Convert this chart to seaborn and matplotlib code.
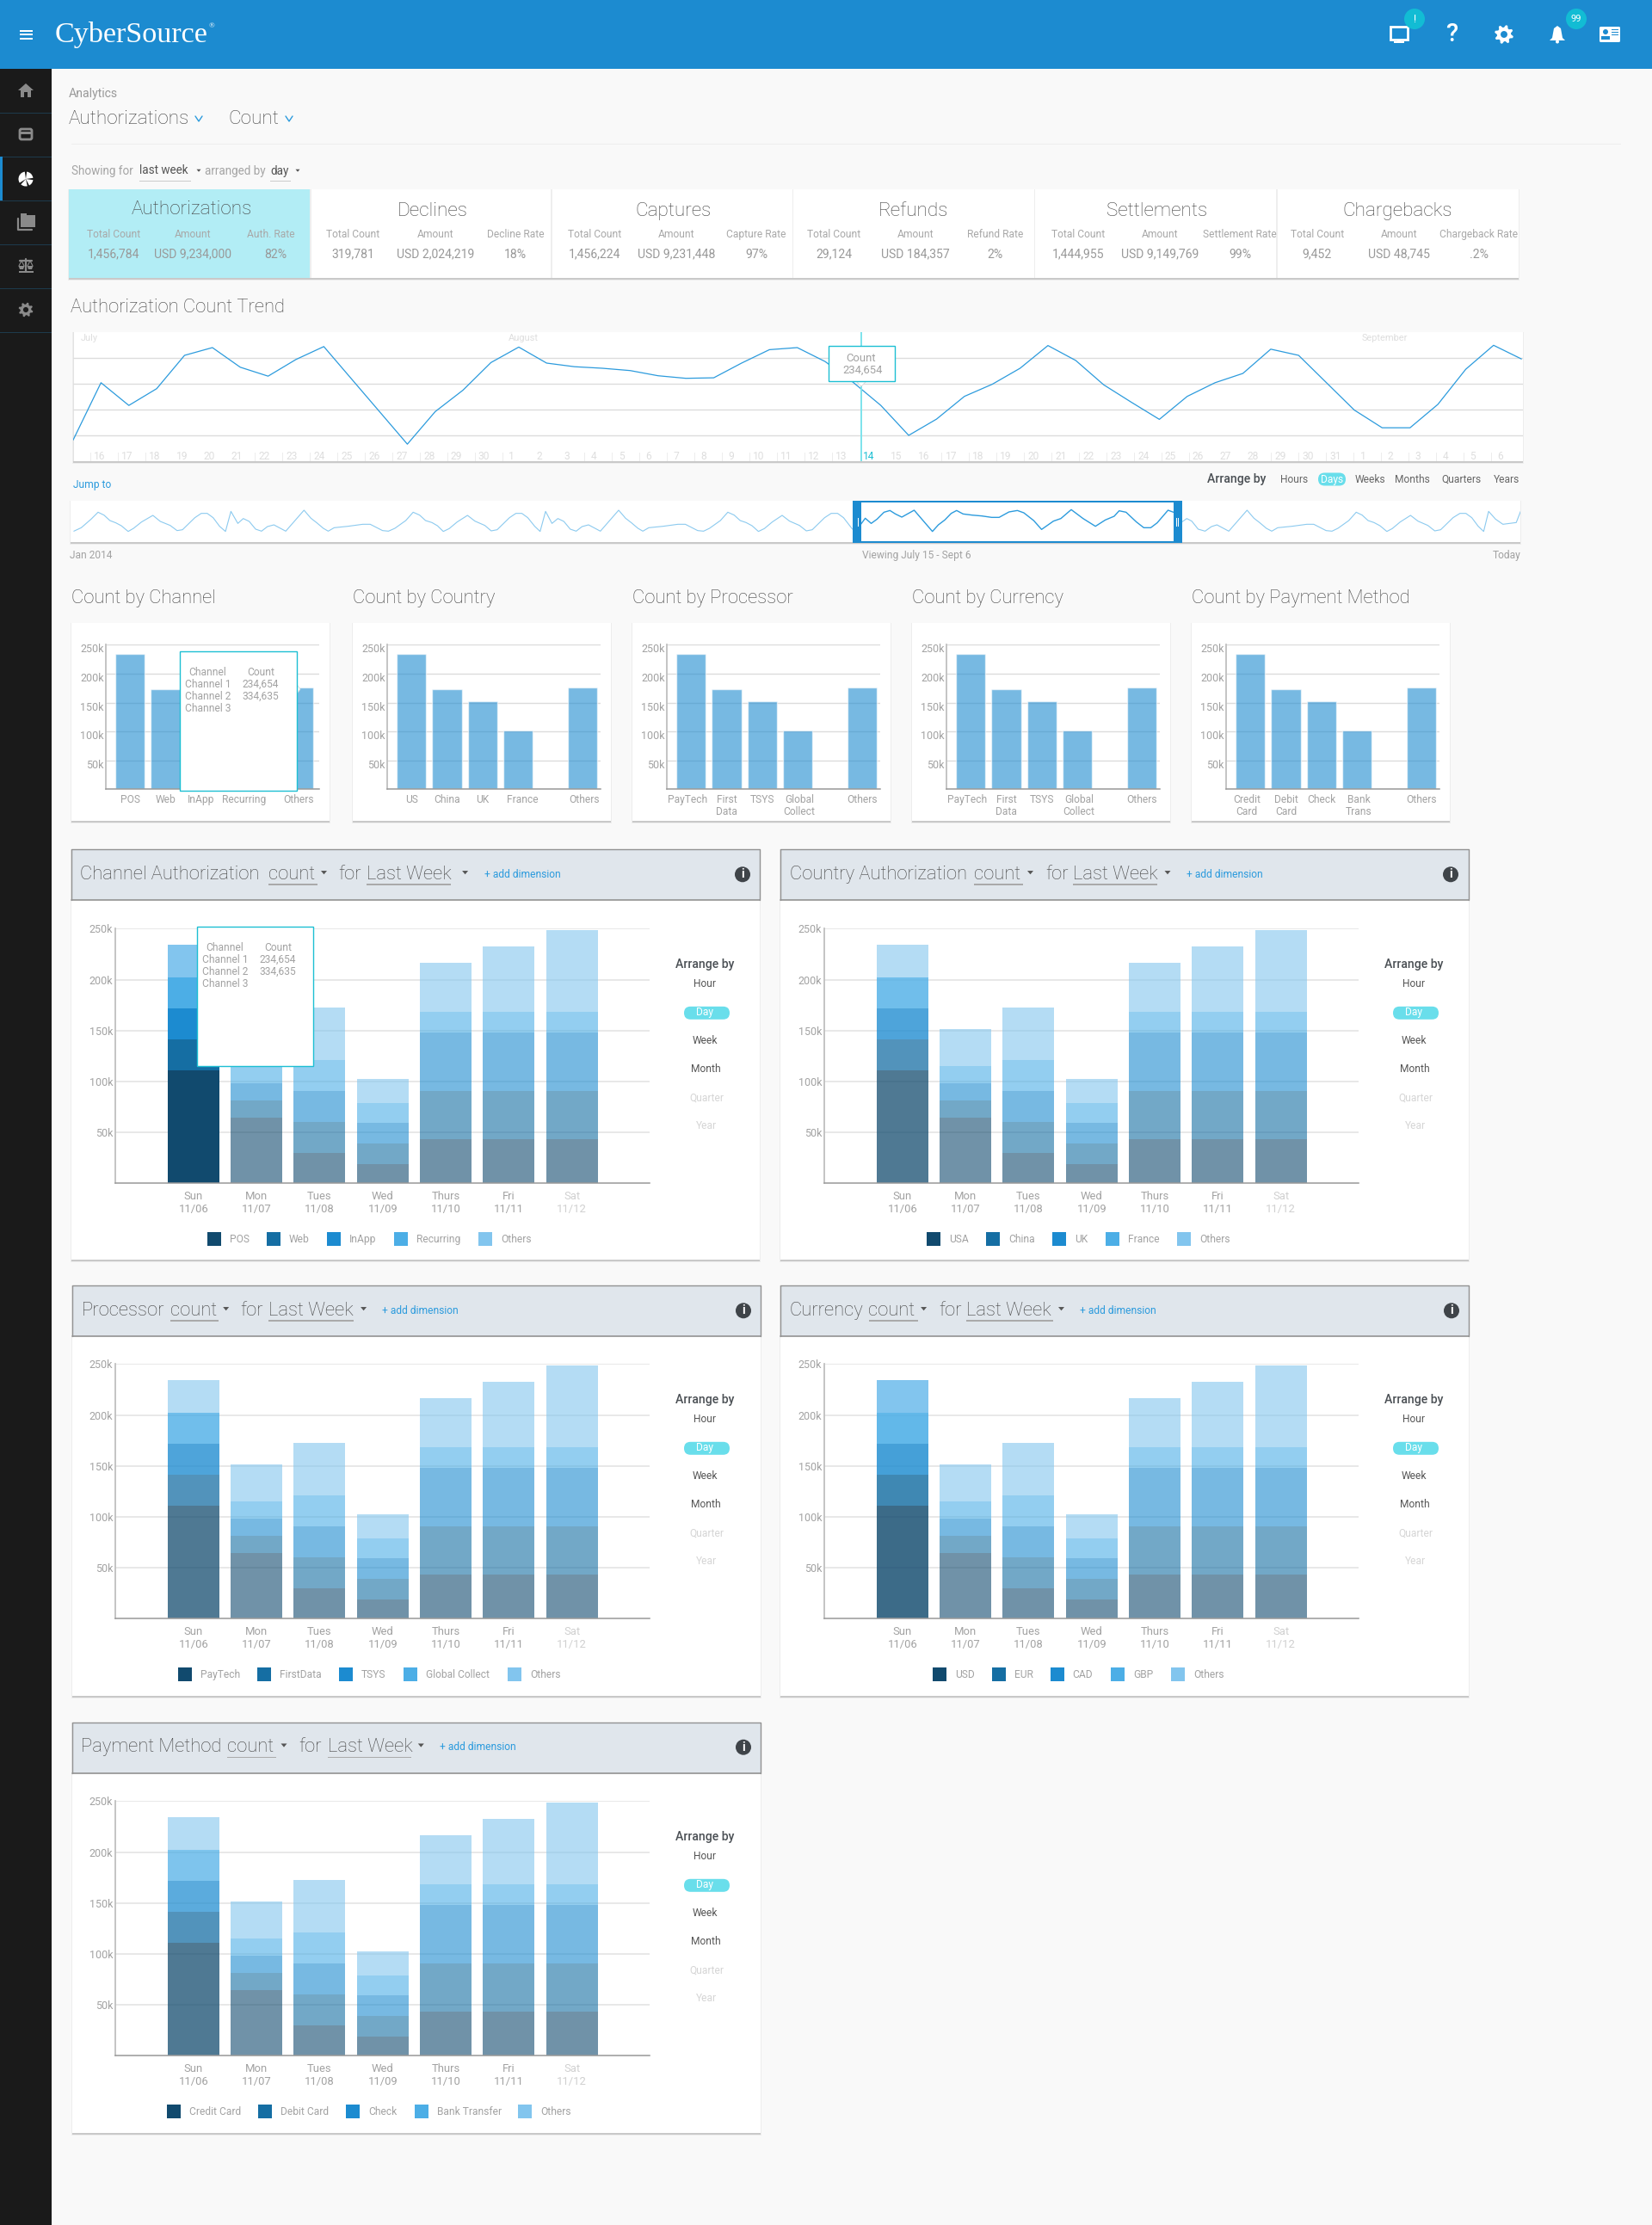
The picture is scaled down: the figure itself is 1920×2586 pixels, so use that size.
import numpy as np
import seaborn as sns
import matplotlib
matplotlib.use('Agg')
import matplotlib.pyplot as plt
from matplotlib.colors import to_rgba
from matplotlib.patches import Rectangle, Circle, Ellipse, Polygon, Wedge, FancyBboxPatch
from matplotlib.transforms import ScaledTranslation

sns.set_theme(style='white')
plt.rcParams['font.family'] = ['Roboto', 'DejaVu Sans']

W, H = 1920, 2586

# ---- data ----
SUMMARY_TITLES = ['Authorizations', 'Declines', 'Captures', 'Refunds', 'Settlements', 'Chargebacks']
SUMMARY_RATE_NAMES = ['Auth. Rate', 'Decline Rate', 'Capture Rate', 'Refund Rate', 'Settlement Rate', 'Chargeback Rate']
SUMMARY_COUNTS = ['1,456,784', '319,781', '1,456,224', '29,124', '1,444,955', '9,452']
SUMMARY_AMOUNTS = ['USD 9,234,000', 'USD 2,024,219', 'USD 9,231,448', 'USD 184,357', 'USD 9,149,769', 'USD 48,745']
SUMMARY_RATES = ['82%', '18%', '97%', '2%', '99%', '.2%']

# daily count, thousands (July 15 - Sept 6)
TREND_COUNTS = [41, 152, 108, 140.5, 205, 220, 182, 164.7, 197, 222, 159, 96, 33, 96, 137.7, 191, 221, 190,
                183, 180, 175.5, 165.5, 160.5, 161.5, 190, 216, 220, 193, 153, 108, 50, 81.5, 125.5, 149, 180,
                224, 195, 148, 114, 81, 125.5, 152, 170, 217, 205, 152, 99, 64.7, 64.7, 110, 178, 224.5, 198]
JULY_DAYS = list(range(16, 31))
AUGUST_DAYS = list(range(1, 32))
SEPT_DAYS = list(range(1, 7))

# overview strip, position along the timeline and relative level
MINI_POS_EARLY = [45, 60, 80, 94, 106, 118, 130, 141, 155, 166, 182, 205, 220, 240, 254, 265, 290, 303, 315, 327,
                  340, 352, 363, 377, 388, 400, 413, 425, 437, 450, 474, 511, 525, 537, 550, 560, 572, 600, 630,
                  645, 670, 682, 695, 717, 732, 745, 757, 770, 781, 793, 805, 821, 842, 857, 877, 890, 902, 927,
                  940, 952, 964, 978, 989, 1000, 1013, 1025, 1037, 1050, 1062, 1074, 1087, 1111, 1148, 1162, 1174,
                  1187, 1197, 1209, 1238, 1268, 1283, 1308, 1320, 1332, 1354, 1369, 1382, 1394, 1406, 1418, 1431,
                  1443, 1459, 1479, 1494, 1514, 1528, 1540, 1565]
MINI_LEVEL_EARLY = [38, 50, 80, 104, 94, 75, 67, 57, 37, 48, 70, 93, 72, 58, 40, 43, 85, 100, 100, 85,
                    55, 37, 107, 65, 82, 72, 45, 38, 54, 60, 38, 111, 83, 67, 48, 38, 50, 55, 62,
                    62, 40, 38, 48, 75, 104, 94, 75, 68, 57, 37, 47, 70, 93, 73, 58, 39, 43, 85,
                    100, 100, 85, 55, 37, 107, 65, 82, 72, 45, 38, 54, 60, 38, 111, 83, 67,
                    48, 38, 50, 55, 62, 62, 40, 38, 48, 75, 104, 94, 75, 68, 57, 37,
                    47, 70, 93, 73, 58, 39, 43, 85]
MINI_POS_LATE = [115, 128, 140, 158, 172, 184, 196, 208, 222, 234, 245, 258, 283, 320, 332, 345, 358, 369, 382,
                 400, 420, 440, 455, 475, 492, 505, 525, 541, 565, 580, 601, 625, 650, 670, 688, 698, 712, 733,
                 748, 762, 775, 797, 808, 825, 835, 845, 858, 872, 885, 896, 920, 957, 971, 983, 996, 1007, 1019,
                 1048, 1078, 1092, 1117, 1129, 1141, 1163, 1178, 1190, 1202, 1214, 1226, 1240, 1251, 1267, 1288,
                 1303, 1323, 1337, 1349, 1374, 1388, 1400, 1412, 1425, 1436, 1446, 1460, 1475, 1502, 1511]
MINI_LEVEL_LATE = [100, 100, 85, 45, 55, 83, 65, 80, 104, 110, 98, 87, 111, 37, 60, 77, 100, 110, 98,
                   94, 91, 86, 86, 105, 110, 102, 75, 44, 73, 82, 113, 82, 55, 77, 90, 109, 104, 70,
                   50, 50, 67, 111, 104, 70, 82, 73, 45, 38, 54, 60, 38, 111, 83, 67, 48, 38, 50,
                   55, 62, 62, 40, 38, 48, 75, 104, 94, 75, 68, 57, 37, 47, 70, 93,
                   73, 58, 39, 43, 85, 100, 100, 85, 55, 37, 107, 80, 62, 68, 108]

# small cards, thousands
CARD_COUNTS = [234, 172.5, 152, 101.5, 176]
CHANNEL_NAMES = ['POS', 'Web', 'InApp', 'Recurring', 'Others']
COUNTRY_NAMES = ['US', 'China', 'UK', 'France', 'Others']
PROCESSOR_NAMES = ['PayTech', 'First\nData', 'TSYS', 'Global\nCollect', 'Others']
PAYMENT_NAMES = ['Credit\nCard', 'Debit\nCard', 'Check', 'Bank\nTrans', 'Others']

# stacked weekly panels, thousands per segment
DAY_LABELS = ['Sun\n11/06', 'Mon\n11/07', 'Tues\n11/08', 'Wed\n11/09', 'Thurs\n11/10', 'Fri\n11/11', 'Sat\n11/12']
SEGMENT_1 = [111, 64.5, 30, 19, 43.5, 43.5, 43.5]
SEGMENT_2 = [30, 16.5, 30, 20.5, 47, 47, 47]
SEGMENT_3 = [31, 17.5, 30.5, 20, 57.5, 57.5, 57.5]
SEGMENT_4 = [30, 16.5, 30.5, 19.5, 20, 20, 20]
SEGMENT_5 = [32, 36.5, 51.5, 23.5, 48.5, 64.5, 80.5]
SEGMENTS = [SEGMENT_1, SEGMENT_2, SEGMENT_3, SEGMENT_4, SEGMENT_5]
LAYER_COLORS = ['#114A6E', '#156EA3', '#1C8BD0', '#4CAEE6', '#82C5EE']

CHANNEL_LEGEND = ['POS', 'Web', 'InApp', 'Recurring', 'Others']
COUNTRY_LEGEND = ['USA', 'China', 'UK', 'France', 'Others']
PROCESSOR_LEGEND = ['PayTech', 'FirstData', 'TSYS', 'Global Collect', 'Others']
CURRENCY_LEGEND = ['USD', 'EUR', 'CAD', 'GBP', 'Others']
PAYMENT_LEGEND = ['Credit Card', 'Debit Card', 'Check', 'Bank Transfer', 'Others']

# ---- colours ----
PAGE = '#F9F9F9'
BLUE = '#1C8BD0'
LINK = '#2C9BDD'
TEAL = '#1DBFD3'
PILL = '#69DEEB'
DARK = '#4A4F54'
TITLE = '#444444'
GREY = '#A2A2A2'
FAINT = '#DEDEDE'
GRID = '#DCDCDC'

fig = plt.figure(figsize=(W / 100, H / 100), dpi=100, facecolor=PAGE)


def overlay(z):
    ax = fig.add_axes([0, 0, 1, 1], zorder=z)
    ax.set_xlim(0, W)
    ax.set_ylim(H, 0)
    ax.axis('off')
    ax.patch.set_alpha(0)
    return ax


def px_axes(x0, y0, x1, y1):
    ax = fig.add_axes([x0 / W, 1 - y1 / H, (x1 - x0) / W, (y1 - y0) / H], zorder=5)
    ax.patch.set_alpha(0)
    return ax


bg = overlay(0)
fg = overlay(20)


def put(x, y, s, px=12, color=GREY, ha='left', weight=None, ax=None, **kw):
    # big headings are Roboto Light, the small labels read better in regular
    weight = weight or ('light' if px >= 20 else 'normal')
    (ax or bg).text(x, y + 1.5, s, fontsize=px * 0.72, color=color, ha=ha, va='center', weight=weight, **kw)


def rect(x0, y0, x1, y1, color, ax=None, z=2, **kw):
    (ax or bg).add_patch(Rectangle((x0, y0), x1 - x0, y1 - y0, facecolor=color, edgecolor='none', zorder=z, **kw))


def card(x0, y0, x1, y1, color='white'):
    rect(x0 - 1, y0, x1 + 1, y1 + 3, '#EDEDED', z=1)
    rect(x0, y1, x1, y1 + 2, '#C9C9C9', z=1)
    rect(x0, y0, x1, y1, color)


def caret(x, y, ax=None, color='#555555', size=4):
    (ax or bg).add_patch(Polygon([(x - size, y - size / 2), (x + size, y - size / 2), (x, y + size * 0.7)],
                                 facecolor=color, edgecolor='none', zorder=3))


def chevron(x, y):
    bg.plot([x - 4, x, x + 4], [y - 3, y + 3, y - 3], color=LINK, lw=1.0, zorder=3)


def gear(cx, cy, r, color, hole, ax=None):
    ang = np.linspace(0, 2 * np.pi, 33)[:-1] + np.pi / 16
    rad = np.tile([r, r, r * 0.74, r * 0.74], 8)
    pts = np.c_[cx + rad * np.cos(ang), cy + rad * np.sin(ang)]
    ax = ax or bg
    ax.add_patch(Polygon(pts, facecolor=color, edgecolor='none', zorder=3))
    ax.add_patch(Circle((cx, cy), r * 0.36, facecolor=hole, edgecolor='none', zorder=4))


# ---- page chrome ----
rect(0, 0, W, 80, BLUE)
rect(0, 80, 60, H, '#1A1A1A')
for y in [131, 182, 233, 284, 335, 386]:
    rect(0, y - 0.5, 60, y + 0.5, '#1D3A4C', z=3)
rect(0, 182, 3, 233, BLUE, z=3)
for y in [35.5, 40, 45]:
    rect(23, y - 1, 38, y + 1, 'white', z=3)
bg.text(64, 49, 'CyberSource', fontsize=24.6, color='white', family='Liberation Serif', ha='left', va='baseline')
bg.text(243, 30, '®', fontsize=6.5, color='white', family='Liberation Serif', ha='left', va='center')

# sidebar icons
ICON = '#8A8A8A'
bg.add_patch(Polygon([(21, 105), (30, 97), (39, 105), (36, 105), (36, 113), (32, 113), (32, 107), (28, 107),
                      (28, 113), (24, 113), (24, 105)], facecolor=ICON, edgecolor='none', zorder=3))
bg.add_patch(FancyBboxPatch((23, 150), 14, 12, boxstyle='round,pad=0,rounding_size=2', fc='none', ec=ICON, lw=2, zorder=3))
rect(23, 153, 37, 156, ICON, z=3)
for t0, t1 in [(-82, -8), (8, 62), (78, 132), (148, 262)]:
    bg.add_patch(Wedge((30, 208), 8.5, t0, t1, facecolor='white', edgecolor='none', zorder=3))
rect(24, 250, 41, 264, ICON, z=3)
rect(24, 248, 31, 251, ICON, z=3)
bg.plot([21, 21, 37], [254, 267, 267], color=ICON, lw=1.6, zorder=3)
bg.plot([23, 37], [303, 303], color=ICON, lw=1.6, zorder=3)
bg.plot([30, 30], [301, 315], color=ICON, lw=1.6, zorder=3)
rect(22, 315, 39, 317, ICON, z=3)
for cx in [25, 35]:
    bg.add_patch(Polygon([(cx - 3.5, 309), (cx + 3.5, 309), (cx + 2, 313), (cx - 2, 313)], facecolor=ICON, edgecolor='none', zorder=3))
    bg.plot([cx - 3, cx, cx + 3], [309, 303, 309], color=ICON, lw=0.8, zorder=3)
gear(30, 360, 8.5, ICON, '#1A1A1A')

# header icons
bg.add_patch(Rectangle((1616, 31), 20, 15, fc='none', ec='white', lw=2, zorder=3))
rect(1624, 46, 1628, 49, 'white', z=3)
rect(1620, 48, 1632, 50, 'white', z=3)
bg.add_patch(Ellipse((1644, 22), 24, 24, facecolor='#12BCD4', edgecolor='none', zorder=4))
bg.text(1644, 22, '!', color='white', fontsize=9, ha='center', va='center', zorder=5)
bg.text(1687, 40, '?', color='white', fontsize=21, ha='center', va='center', zorder=5, weight='medium')
gear(1748, 40, 11, 'white', BLUE)
bg.add_patch(Polygon([(1810, 30), (1814, 33), (1816, 44), (1819, 47), (1801, 47), (1804, 44), (1806, 33)],
                     facecolor='white', edgecolor='none', zorder=3))
bg.add_patch(Circle((1810, 48.5), 2, facecolor='white', edgecolor='none', zorder=3))
bg.add_patch(Ellipse((1832, 22), 24, 24, facecolor='#12BCD4', edgecolor='none', zorder=4))
bg.text(1832, 22, '99', color='white', fontsize=8, ha='center', va='center', zorder=5)
bg.add_patch(FancyBboxPatch((1859, 31), 24, 18, boxstyle='round,pad=0,rounding_size=1.5', fc='white', ec='none', zorder=3))
bg.add_patch(Circle((1866, 37), 3, facecolor=BLUE, edgecolor='none', zorder=4))
rect(1861, 42, 1871, 46, BLUE, z=4)
for y in [34, 37, 40]:
    rect(1873, y, 1881, y + 1.4, BLUE, z=4)

# page heading
put(80, 108, 'Analytics', 14, '#999999')
put(80, 137, 'Authorizations', 22.5, TITLE)
chevron(231, 138)
put(265, 137, 'Count', 22.5, TITLE)
chevron(336, 138)
rect(83, 166.5, 1884, 167.5, '#EEEEEE')
put(83, 197, 'Showing for', 13.5, '#A5A5A5')
put(162, 197, 'last week', 13.5, '#555555')
rect(162, 210, 222, 211, '#CCCCCC')
caret(231, 198, size=2.5)
put(238, 197, 'arranged by', 13.5, '#A5A5A5')
put(314, 197, 'day', 13.5, '#555555')
rect(314, 210, 338, 211, '#CCCCCC')
caret(346, 198, size=2.5)

# summary strip
card(80, 220, 1765, 323)
rect(80, 220, 361, 323, '#B2EDF5', z=2)
for x in [361, 641, 921.6, 1202.5, 1484]:
    rect(x - 0.6, 220, x + 0.6, 323, '#EEEEEE', z=3)
title_x = [223, 503, 783, 1062, 1345, 1624]
count_x = [132, 410, 691, 969, 1253, 1531]
amount_x = [224, 506, 786, 1064, 1348, 1626]
rate_x = [315, 599, 879, 1157, 1441, 1719]
rate_val_x = [320, 599, 879, 1157, 1441, 1719]
for i, name in enumerate(SUMMARY_TITLES):
    put(title_x[i], 242 if i == 0 else 244, name, 22.5, TITLE, 'center', zorder=4)
    put(count_x[i], 271, 'Total Count', 12, '#A8A8A8', 'center', zorder=4)
    put(amount_x[i], 271, 'Amount', 12, '#A8A8A8', 'center', zorder=4)
    put(rate_x[i], 271, SUMMARY_RATE_NAMES[i], 12, '#A8A8A8', 'center', zorder=4)
    put(count_x[i], 294, SUMMARY_COUNTS[i], 14, '#999999', 'center', zorder=4)
    put(amount_x[i], 294, SUMMARY_AMOUNTS[i], 14, '#999999', 'center', zorder=4)
    put(rate_val_x[i], 294, SUMMARY_RATES[i], 14, '#999999', 'center', zorder=4)

# ---- trend ----
put(82, 356, 'Authorization Count Trend', 22, TITLE)
card(85, 386, 1770, 536)
rect(85, 386, 86, 536, '#E3E3E3', z=3)
ax = px_axes(85, 386, 1770, 536)
sns.lineplot(x=np.arange(len(TREND_COUNTS)), y=TREND_COUNTS, color=LINK, linewidth=0.9, errorbar=None, ax=ax)
ax.set_xlim(0, 1685 / 32.37)
ax.set_ylim(0, 250)
ax.set_yticks([50, 100, 150, 200])
ax.set_yticklabels([])
ax.set_xticks([])
ax.set(xlabel='', ylabel='')
ax.grid(axis='y', color=GRID, linewidth=1.0)
ax.set_axisbelow(True)
sns.despine(ax=ax, left=True, bottom=True)
ax.tick_params(length=0)

all_days = JULY_DAYS + AUGUST_DAYS + SEPT_DAYS
for i, d in enumerate(all_days):
    tick = 105.3 + 31.92 * i
    rect(tick - 0.4, 526, tick + 0.4, 536, '#EDEDED', z=3)
    on_day = (d == 14 and i > len(JULY_DAYS))
    put(tick + 10.4, 529, str(d), 12, TEAL if on_day else FAINT, 'center', zorder=4)
for x in [585, 1577]:
    rect(x - 0.4, 386, x + 0.4, 536, '#EFEFEF', z=3)
put(94, 392, 'July', 11, FAINT, zorder=4)
put(591, 392, 'August', 11, FAINT, zorder=4)
put(1583, 392, 'September', 11, FAINT, zorder=4)

rect(1000, 386, 1002, 536, '#7FE3EC', ax=fg)
fg.add_patch(Polygon([(995, 443), (1007, 443), (1001, 449)], facecolor='white', edgecolor='#D8D8D8', lw=0.6, zorder=3))
fg.add_patch(Rectangle((963, 402), 76.5, 41.3, fc='white', ec=TEAL, lw=1.0, zorder=4))
put(1001, 415, 'Count', 13, GREY, 'center', ax=fg, zorder=5)
put(1003, 429, '234,654', 13, GREY, 'center', ax=fg, zorder=5)

put(85, 562, 'Jump to', 12, LINK)
put(1437, 556, 'Arrange by', 14, DARK, 'center', weight='medium')
for x, s in zip([1504, 1592, 1641, 1698.5, 1751], ['Hours', 'Weeks', 'Months', 'Quarters', 'Years']):
    put(x, 556, s, 12, '#666666', 'center')
bg.add_patch(FancyBboxPatch((1532, 549.5), 32, 15, boxstyle='round,pad=0,rounding_size=7.5', fc=PILL, ec='none', zorder=3))
put(1548, 556, 'Days', 12, 'white', 'center', zorder=4)

# overview strip
card(82, 582, 1767, 630)
mini_x = np.r_[np.array(MINI_POS_EARLY) / 1.742 - 22, np.array(MINI_POS_LATE) / 1.742 + 818]
mini_y = np.r_[MINI_LEVEL_EARLY, MINI_LEVEL_LATE]
ax = px_axes(82, 582, 1767, 630)
sns.lineplot(x=mini_x, y=mini_y, color='#8CCAEF', linewidth=0.8, sort=False, estimator=None, ax=ax)
win0, win1 = 818 + 167 / 1.742, 818 + 817 / 1.742
ax.axvspan(win0, win1, color='white', zorder=3, lw=0)
inside = (mini_x >= win0) & (mini_x <= win1)
sns.lineplot(x=mini_x[inside], y=mini_y[inside], color=LINK, linewidth=1.0, sort=False, estimator=None, ax=ax, zorder=4)
ax.set_xlim(0, 1685)
ax.set_ylim(0, 144)
ax.set(xlabel='', ylabel='', xticks=[], yticks=[])
sns.despine(ax=ax, left=True, bottom=True)

rect(991.3, 582.3, 1001, 630.7, BLUE, ax=fg)
rect(1364, 582.3, 1374, 630.7, BLUE, ax=fg)
rect(991.3, 582.3, 1374, 584.3, BLUE, ax=fg)
rect(991.3, 628.7, 1374, 630.7, BLUE, ax=fg)
for x in [995, 997.3, 1367.5, 1369.8]:
    rect(x - 0.4, 602, x + 0.4, 612, 'white', ax=fg, z=3)
put(81, 644, 'Jan 2014', 12, GREY)
put(1002, 644, 'Viewing July 15 - Sept 6', 12, GREY)
put(1767, 644, 'Today', 12, GREY, 'right')


def small_tooltip(x0, y0, x1, y1, xs, ys):
    fg.add_patch(Rectangle((x0, y0), x1 - x0, y1 - y0, fc='white', ec=TEAL, lw=1.0, zorder=4))
    put(xs[0], ys[0] - 1, 'Channel', 12, GREY, 'center', ax=fg, zorder=5)
    put(xs[1], ys[0] - 1, 'Count', 12, GREY, 'center', ax=fg, zorder=5)
    put(xs[0], ys[1] - 1, 'Channel 1', 12, GREY, 'center', ax=fg, zorder=5)
    put(xs[1], ys[1] - 1, '234,654', 12, GREY, 'center', ax=fg, zorder=5)
    put(xs[0], ys[2] - 1, 'Channel 2', 12, GREY, 'center', ax=fg, zorder=5)
    put(xs[1], ys[2] - 1, '334,635', 12, GREY, 'center', ax=fg, zorder=5)
    put(xs[0], ys[3] - 1, 'Channel 3', 12, GREY, 'center', ax=fg, zorder=5)


# ---- small cards ----
small_cards = [
    dict(title='Count by Channel', left=83, names=CHANNEL_NAMES, slots=[0, 1, 2, 3, 4.75], label_slots=[0, 1, 2, 3.2, 4.75]),
    dict(title='Count by Country', left=410, names=COUNTRY_NAMES, slots=[0, 1, 2, 3, 4.82], label_slots=[0, 1, 2, 3.12, 4.85]),
    dict(title='Count by Processor', left=735, names=PROCESSOR_NAMES, slots=[0, 1, 2, 3, 4.82], label_slots=[-0.1, 1, 2, 3.05, 4.82]),
    dict(title='Count by Currency', left=1060, names=PROCESSOR_NAMES, slots=[0, 1, 2, 3, 4.82], label_slots=[-0.1, 1, 2, 3.05, 4.82]),
    dict(title='Count by Payment Method', left=1385, names=PAYMENT_NAMES, slots=[0, 1, 2, 3, 4.82], label_slots=[-0.1, 1, 2, 3.05, 4.82]),
]
for spec in small_cards:
    left = spec['left']
    put(left, 694, spec['title'], 22, TITLE)
    card(left, 724, left + 300, 954)
    ax = px_axes(left + 40, 749.3, left + 288, 917.3)
    sns.barplot(x=spec['slots'], y=CARD_COUNTS, native_scale=True, width=0.828, color=BLUE, alpha=0.6,
                saturation=1, errorbar=None, ax=ax)
    ax.set_xlim(-28.2 / 41.3, 219.8 / 41.3)
    ax.set_ylim(0, 250)
    ax.set_yticks([50, 100, 150, 200, 250])
    ax.set_yticklabels(['50k', '100k', '150k', '200k', '250k'], fontsize=12.5 * 0.72, color=GREY)
    ax.set_xticks(spec['label_slots'])
    ax.set_xticklabels(spec['names'], fontsize=12 * 0.72, color=GREY, linespacing=1.15)
    ax.set(xlabel='', ylabel='')
    ax.grid(axis='y', color=GRID, linewidth=1.0)
    ax.set_axisbelow(True)
    ax.tick_params(axis='both', length=0, pad=1.5)
    ax.tick_params(axis='x', pad=4)
    shift = ScaledTranslation(0, -3 / 72, fig.dpi_scale_trans)
    for lab in ax.get_yticklabels():
        lab.set_transform(lab.get_transform() + shift)
    sns.despine(ax=ax)
    ax.spines['left'].set_color('#BDBDBD')
    ax.spines['bottom'].set_color('#999999')
    ax.spines['bottom'].set_linewidth(1.1)

small_tooltip(209.3, 757.3, 344.5, 919.3, [241.4, 303], [780.7, 794.7, 809, 823])
fg.add_patch(Polygon([(344.5, 795), (349, 801), (344.5, 807)], facecolor='white', edgecolor='#DADADA', lw=0.6, zorder=3))

# ---- stacked panels ----
panels = [
    dict(left=83.2, top=987.3, axis_x=133.5, axis_top=1079.3, name='Channel Authorization', name_x=93.3, count_x=312, count_end=369,
         caret1=376.5, for_x=393.5, week_x=426, week_end=524, caret2=540.6, add_x=563, info_x=863,
         legend=CHANNEL_LEGEND, boxes=[241, 310, 380, 458, 556], labels=[267, 336, 406, 484, 582],
         sun=[1, 1, 1, 1, 1]),
    dict(left=907, top=987.3, axis_x=957.5, axis_top=1079.3, name='Country Authorization', name_x=917.5, count_x=1132, count_end=1189,
         caret1=1197.5, for_x=1215, week_x=1246.7, week_end=1345, caret2=1357, add_x=1379, info_x=1686,
         legend=COUNTRY_LEGEND, boxes=[1077, 1146, 1223, 1285, 1368], labels=[1103, 1172, 1249, 1311, 1394],
         sun=[0.74, 0.74, 0.78, 0.8, 0.6]),
    dict(left=83.8, top=1494.3, axis_x=133.5, axis_top=1585.3, name='Processor', name_x=94.4, count_x=197.6, count_end=254,
         caret1=262.7, for_x=279.6, week_x=312, week_end=411.4, caret2=422.6, add_x=444.3, info_x=864,
         legend=PROCESSOR_LEGEND, boxes=[207, 299, 394, 469, 590], labels=[233, 325, 420, 495, 616],
         sun=[0.74, 0.74, 0.78, 0.8, 0.6]),
    dict(left=907, top=1494.3, axis_x=957.5, axis_top=1585.3, name='Currency', name_x=917.5, count_x=1009.5, count_end=1066.8,
         caret1=1073.6, for_x=1091, week_x=1123.4, week_end=1223.5, caret2=1233.5, add_x=1254.7, info_x=1687,
         legend=CURRENCY_LEGEND, boxes=[1084, 1153, 1220.8, 1291, 1361], labels=[1110, 1179, 1246.7, 1317, 1387],
         sun=[0.82, 0.82, 0.82, 0.88, 1]),
    dict(left=83.8, top=2001.7, axis_x=133.5, axis_top=2093.3, name='Payment Method', name_x=94.4, count_x=264.3, count_end=321,
         caret1=330, for_x=346.9, week_x=381.3, week_end=478, caret2=489.3, add_x=511, info_x=864,
         legend=PAYMENT_LEGEND, boxes=[194, 300, 402, 482, 602], labels=[220, 326, 428, 508, 628],
         sun=[0.74, 0.74, 0.72, 0.72, 0.6]),
]

for spec in panels:
    left, top, base = spec['left'], spec['top'], spec['axis_top']
    right = left + 800
    card(left, top, right, top + 477)
    rect(left, top, right, top + 59, '#E0E6EC', z=3)
    bg.plot([left, left, right, right], [top + 59, top, top, top + 59], color='#929292', lw=1, zorder=4)
    bg.plot([left, right], [top + 59, top + 59], color='#929292', lw=1.2, zorder=4)

    ty = top + 27.5
    put(spec['name_x'], ty, spec['name'], 22, TITLE, zorder=5)
    put(spec['count_x'], ty, 'count', 22, TITLE, zorder=5)
    rect(spec['count_x'], top + 40, spec['count_end'], top + 41.6, '#AAAAAA', z=5)
    caret(spec['caret1'], ty - 1, size=3.5)
    put(spec['for_x'], ty, 'for', 22, TITLE, zorder=5)
    put(spec['week_x'], ty, 'Last Week', 22, TITLE, zorder=5)
    rect(spec['week_x'], top + 40, spec['week_end'], top + 41.6, '#AAAAAA', z=5)
    caret(spec['caret2'], ty - 1, size=3.5)
    put(spec['add_x'], ty, '+ add dimension', 12, LINK, zorder=5)
    bg.add_patch(Circle((spec['info_x'], ty + 1.5), 9, facecolor='#3F4449', edgecolor='none', zorder=5))
    bg.text(spec['info_x'], ty + 1.5, 'i', color='white', fontsize=10, weight='bold', ha='center', va='center', zorder=6)

    ax = px_axes(spec['axis_x'], base, spec['axis_x'] + 621.5, base + 296)
    bottom = np.zeros(7)
    for seg, col, sun_alpha in zip(SEGMENTS, LAYER_COLORS, spec['sun']):
        faces = [to_rgba(col, sun_alpha)] + [to_rgba(col, 0.6)] * 6
        sns.barplot(x=DAY_LABELS, y=seg, bottom=bottom, color=col, facecolor=faces, edgecolor='none',
                    width=0.816, saturation=1, errorbar=None, ax=ax)
        bottom = bottom + np.array(seg)
    ax.set_xlim(-91.3 / 73.3, 530.2 / 73.3)
    ax.set_ylim(0, 250)
    ax.set_yticks([50, 100, 150, 200, 250])
    ax.set_yticklabels(['50k', '100k', '150k', '200k', '250k'], fontsize=12.5 * 0.72, color=GREY)
    ax.set(xlabel='', ylabel='')
    ax.tick_params(axis='both', length=0, pad=1.5)
    ax.tick_params(axis='x', pad=6.5)
    ax.set_xticks(range(7))
    ax.set_xticklabels(DAY_LABELS, fontsize=13 * 0.72, color=GREY, linespacing=1.15)
    ax.get_xticklabels()[-1].set_color('#D0D0D0')
    ax.grid(axis='y', color='#E6E6E6', linewidth=1.3)
    ax.set_axisbelow(True)
    sns.despine(ax=ax)
    ax.spines['left'].set_color('#BDBDBD')
    ax.spines['bottom'].set_color('#999999')
    ax.spines['bottom'].set_linewidth(1.1)

    # arrange-by column
    cx = spec['axis_x'] + 685.5
    put(cx, base + 40, 'Arrange by', 14, DARK, 'center', weight='medium')
    put(cx, base + 63, 'Hour', 12, '#555555', 'center')
    bg.add_patch(FancyBboxPatch((cx - 24, base + 90.5), 53, 15, boxstyle='round,pad=0,rounding_size=7.5', fc=PILL, ec='none', zorder=3))
    put(cx, base + 96, 'Day', 12, 'white', 'center', zorder=4)
    put(cx, base + 129, 'Week', 12, '#555555', 'center')
    put(cx + 1, base + 162, 'Month', 12, '#555555', 'center')
    put(cx + 2, base + 195, 'Quarter', 12, '#D5D5D5', 'center')
    put(cx + 2, base + 228, 'Year', 12, '#D5D5D5', 'center')

    # legend row
    ly = base + 361
    for name, bx, lx, col in zip(spec['legend'], spec['boxes'], spec['labels'], LAYER_COLORS):
        rect(bx, ly - 8, bx + 16, ly + 8, col, z=3)
        put(lx, ly - 1, name, 12, GREY)

small_tooltip(229.3, 1077.3, 364.3, 1239.3, [261.6, 323], [1100.7, 1115, 1129, 1143])

fig.savefig('out.png', dpi=100, facecolor=PAGE)
